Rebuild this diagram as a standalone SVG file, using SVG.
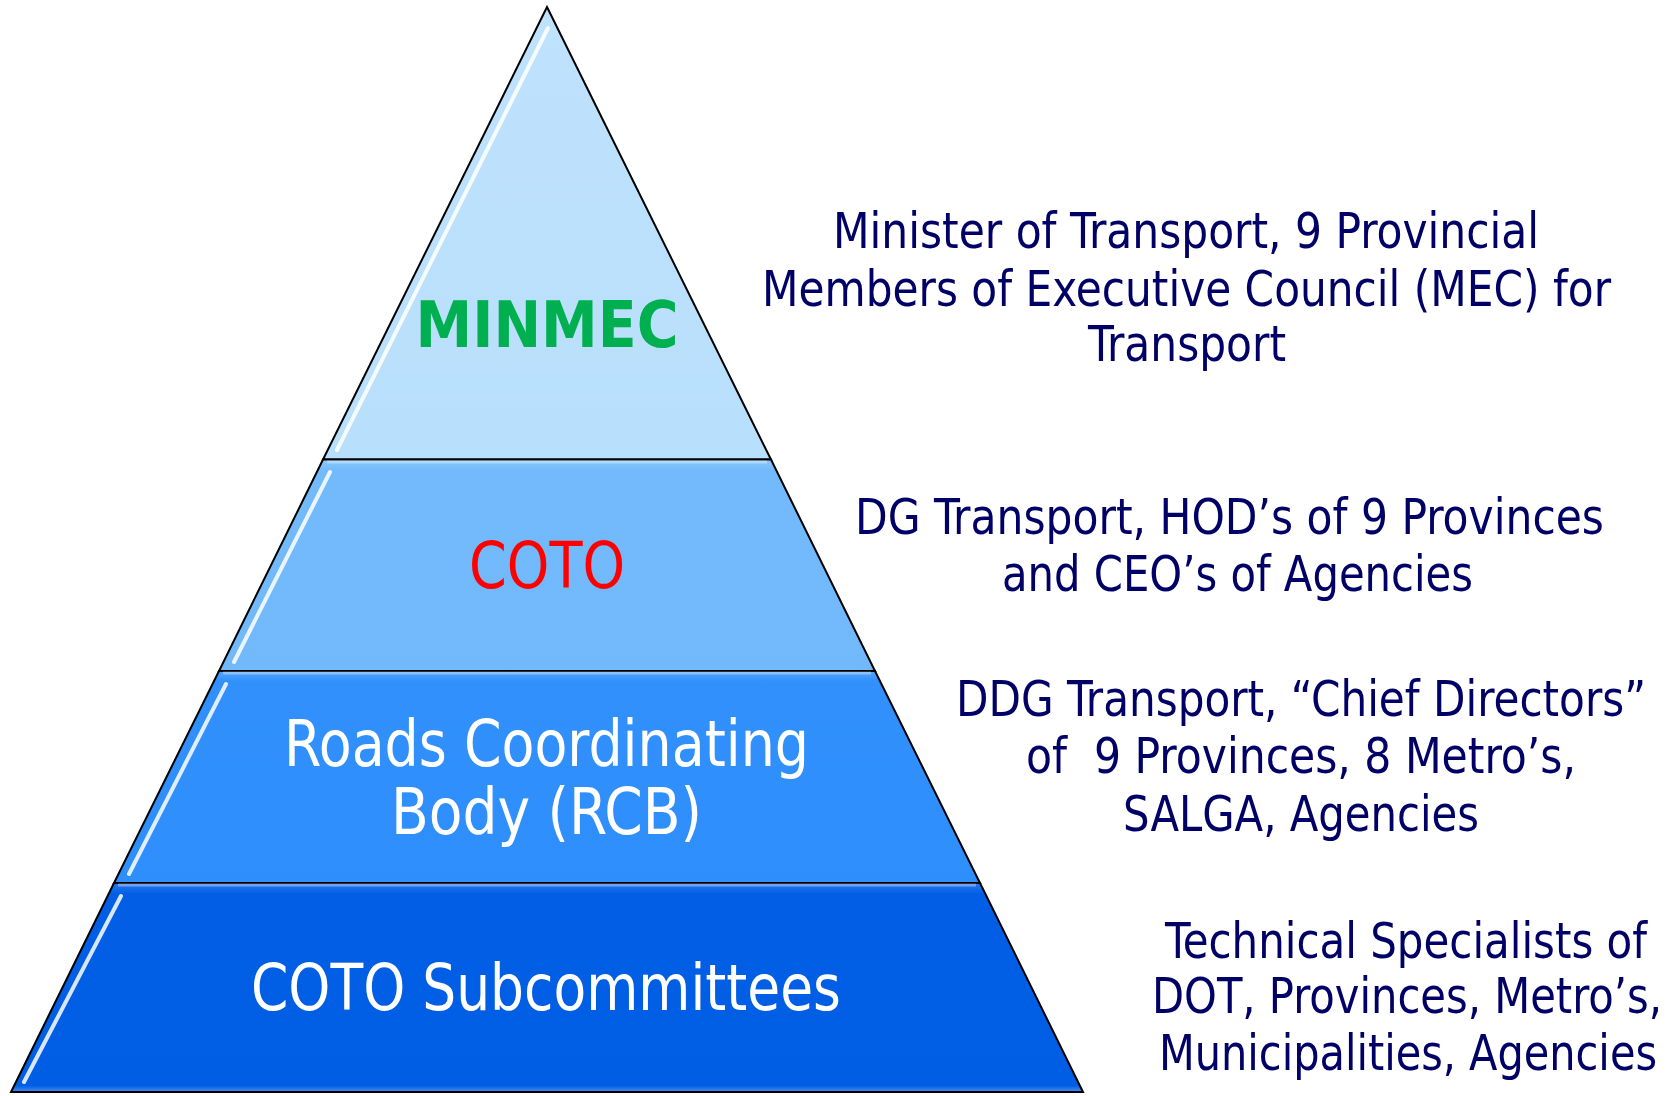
<svg xmlns="http://www.w3.org/2000/svg" width="1676" height="1096" viewBox="0 0 1676 1096">
<style>
.tier{stroke:#000;stroke-width:2;stroke-linejoin:miter}
.hl{stroke:#fff;stroke-width:4;stroke-linecap:round;fill:none;opacity:0.85}
.bev{stroke:#fff;stroke-width:3;fill:none;opacity:0.35}
.lbl{font-family:"DejaVu Sans Condensed","DejaVu Sans",Verdana,sans-serif;font-size:64px;text-anchor:middle}
.desc{font-family:"DejaVu Sans Condensed","DejaVu Sans",Verdana,sans-serif;font-size:50px;fill:#000066;text-anchor:middle}
</style>
<defs>
<linearGradient id="g1" x1="0" y1="0" x2="0" y2="1"><stop offset="0" stop-color="#bfe2fd"/><stop offset="1" stop-color="#b8dffc"/></linearGradient>
<linearGradient id="g2" x1="0" y1="0" x2="0" y2="1"><stop offset="0" stop-color="#8cc7fc"/><stop offset="0.05" stop-color="#73bafc"/><stop offset="1" stop-color="#71b9fb"/></linearGradient>
<linearGradient id="g3" x1="0" y1="0" x2="0" y2="1"><stop offset="0" stop-color="#55a5fc"/><stop offset="0.05" stop-color="#3190fc"/><stop offset="1" stop-color="#2e8efb"/></linearGradient>
<linearGradient id="g4" x1="0" y1="0" x2="0" y2="1"><stop offset="0" stop-color="#2a7bee"/><stop offset="0.05" stop-color="#025fe5"/><stop offset="0.97" stop-color="#005ee4"/><stop offset="1" stop-color="#4d8fef"/></linearGradient>
</defs>

<g id="tier-minmec">
<polygon class="tier" fill="url(#g1)" points="547,7 771,459.6 323,459.6"/>
<line class="hl" x1="548" y1="28" x2="337" y2="450"/>
<text class="lbl" x="547" y="347" textLength="263" lengthAdjust="spacingAndGlyphs" font-weight="bold" fill="#00b050">MINMEC</text>
</g>

<g id="tier-coto">
<polygon class="tier" fill="url(#g2)" points="323,459.6 771,459.6 875,671 219,671"/>
<line class="hl" x1="330" y1="472" x2="234" y2="662"/>
<line class="bev" x1="327" y1="462" x2="767" y2="462"/>
<text class="lbl" x="547" y="588" textLength="156" lengthAdjust="spacingAndGlyphs" fill="#ff0000">COTO</text>
</g>

<g id="tier-rcb">
<polygon class="tier" fill="url(#g3)" points="219,671 875,671 980,883 114,883"/>
<line class="hl" x1="226" y1="684" x2="129" y2="874"/>
<line class="bev" x1="223" y1="673" x2="871" y2="673"/>
<text class="lbl" x="546.5" y="766" textLength="525" lengthAdjust="spacingAndGlyphs" fill="#ffffff">Roads Coordinating</text>
<text class="lbl" x="546.5" y="834" textLength="311" lengthAdjust="spacingAndGlyphs" fill="#ffffff">Body (RCB)</text>
</g>

<g id="tier-subcommittees">
<polygon class="tier" fill="url(#g4)" points="114,883 980,883 1083,1092 11,1092"/>
<line class="hl" x1="121" y1="896" x2="24" y2="1082"/>
<line class="bev" x1="118" y1="885" x2="976" y2="885"/>
<text class="lbl" x="546" y="1010" textLength="590" lengthAdjust="spacingAndGlyphs" fill="#ffffff">COTO Subcommittees</text>
</g>

<g id="desc-minmec">
<text class="desc" x="1186" y="248" textLength="706" lengthAdjust="spacingAndGlyphs">Minister of Transport, 9 Provincial</text>
<text class="desc" x="1186.5" y="306" textLength="849" lengthAdjust="spacingAndGlyphs">Members of Executive Council (MEC) for</text>
<text class="desc" x="1187" y="361" textLength="198" lengthAdjust="spacingAndGlyphs">Transport</text>
</g>

<g id="desc-coto">
<text class="desc" x="1229.5" y="534" textLength="749" lengthAdjust="spacingAndGlyphs">DG Transport, HOD’s of 9 Provinces</text>
<text class="desc" x="1237.5" y="591" textLength="471" lengthAdjust="spacingAndGlyphs">and CEO’s of Agencies</text>
</g>

<g id="desc-rcb">
<text class="desc" x="1301" y="716" textLength="690" lengthAdjust="spacingAndGlyphs">DDG Transport, “Chief Directors”</text>
<text class="desc" x="1301" y="773" textLength="550" lengthAdjust="spacingAndGlyphs" style="white-space:pre">of  9 Provinces, 8 Metro’s,</text>
<text class="desc" x="1301" y="830.5" textLength="356" lengthAdjust="spacingAndGlyphs">SALGA, Agencies</text>
</g>

<g id="desc-subcommittees">
<text class="desc" x="1406" y="958" textLength="482" lengthAdjust="spacingAndGlyphs">Technical Specialists of</text>
<text class="desc" x="1407" y="1013" textLength="510" lengthAdjust="spacingAndGlyphs">DOT, Provinces, Metro’s,</text>
<text class="desc" x="1408" y="1070" textLength="498" lengthAdjust="spacingAndGlyphs">Municipalities, Agencies</text>
</g>

<g id="connectors"></g>
</svg>
